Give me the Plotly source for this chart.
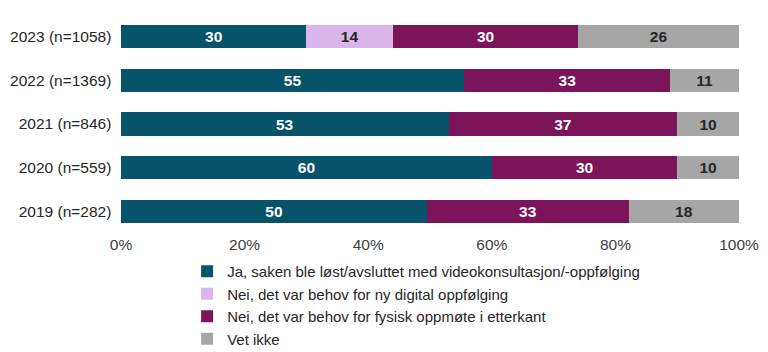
import plotly.graph_objects as go

categories = ["2019 (n=282)", "2020 (n=559)", "2021 (n=846)", "2022 (n=1369)", "2023 (n=1058)"]
series_names = [
    "Ja, saken ble løst/avsluttet med videokonsultasjon/-oppfølging",
    "Nei, det var behov for ny digital oppfølging",
    "Nei, det var behov for fysisk oppmøte i etterkant",
    "Vet ikke",
]
ja_vals = [50, 60, 53, 55, 30]
digital_vals = [None, None, None, None, 14]
fysisk_vals = [33, 30, 37, 33, 30]
vetikke_vals = [18, 10, 10, 11, 26]
tick_vals = [0, 20, 40, 60, 80, 100]
tick_text = ["0%", "20%", "40%", "60%", "80%", "100%"]

colors = ["#07536A", "#DAB6EB", "#7B1458", "#A6A6A6"]
text_colors = ["white", "#262626", "white", "#262626"]

FONT = "Liberation Sans, Arial, sans-serif"

fig = go.Figure()
for i, (name, vals) in enumerate(zip(series_names, [ja_vals, digital_vals, fysisk_vals, vetikke_vals])):
    fig.add_trace(go.Bar(
        y=categories,
        x=vals,
        name=name,
        orientation="h",
        marker=dict(color=colors[i], line=dict(width=0)),
        text=[("" if v is None else str(v)) for v in vals],
        texttemplate="%{text}",
        textposition="inside",
        insidetextanchor="middle",
        textangle=0,
        constraintext="none",
        textfont=dict(family=FONT, size=15.5, color=text_colors[i], weight="bold"),
        hoverinfo="skip",
    ))

fig.update_layout(
    barmode="stack",
    barnorm="percent",
    bargap=0.47,
    width=768,
    height=352,
    margin=dict(l=121, r=29, t=15, b=119),
    paper_bgcolor="white",
    plot_bgcolor="white",
    font=dict(family=FONT, size=15.5, color="#404040"),
    xaxis=dict(
        range=[0, 100],
        tickvals=tick_vals,
        ticktext=tick_text,
        tickangle=0,
        showgrid=False,
        zeroline=False,
        showline=False,
        ticks="",
        automargin=False,
        tickfont=dict(family=FONT, size=15.5, color="#404040"),
        fixedrange=True,
    ),
    yaxis=dict(
        categoryorder="array",
        categoryarray=categories,
        showgrid=False,
        showline=False,
        ticks="",
        ticksuffix="  ",
        automargin=False,
        tickfont=dict(family=FONT, size=15.5, color="#262626"),
        fixedrange=True,
    ),
    legend=dict(
        orientation="v",
        xref="paper",
        yref="container",
        x=0.107,
        xanchor="left",
        y=0.2756,
        yanchor="top",
        traceorder="normal",
        font=dict(family=FONT, size=15, color="#262626"),
        bgcolor="rgba(0,0,0,0)",
        itemclick=False,
        itemdoubleclick=False,
    ),
    showlegend=True,
)

fig.write_html("out.html")
